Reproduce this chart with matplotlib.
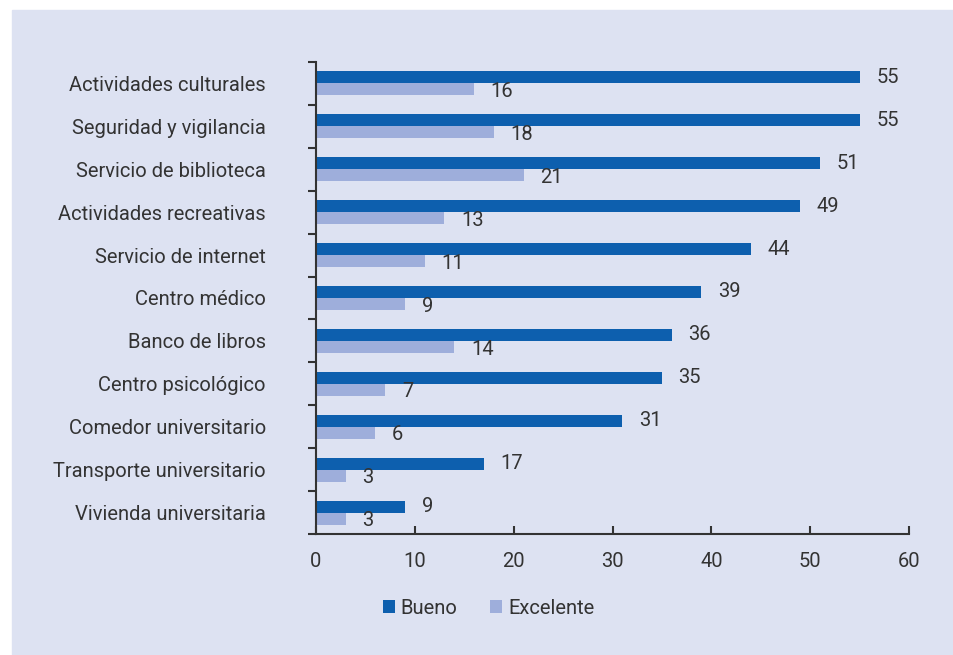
import matplotlib.pyplot as plt
import matplotlib.patches as mpatches
import numpy as np

plt.rcParams['font.family'] = ['Roboto', 'DejaVu Sans']

categories = ['Actividades culturales', 'Seguridad y vigilancia', 'Servicio de biblioteca',
              'Actividades recreativas', 'Servicio de internet', 'Centro médico',
              'Banco de libros', 'Centro psicológico', 'Comedor universitario',
              'Transporte universitario', 'Vivienda universitaria']
bueno = [55, 55, 51, 49, 44, 39, 36, 35, 31, 17, 9]
excelente = [16, 18, 21, 13, 11, 9, 14, 7, 6, 3, 3]
xticks = [0, 10, 20, 30, 40, 50, 60]

BG = '#dde2f2'
C_BUENO = '#0d5fae'
C_EXC = '#9eaedb'
TXT = '#333333'
FS = 14.5

fig = plt.figure(figsize=(9.54, 6.55), dpi=100)
fig.patch.set_facecolor('white')
# light panel behind the chart
fig.patches.append(mpatches.Rectangle((12 / 954, -0.1), 2, 1.1 - 10 / 655,
                                      transform=fig.transFigure, color=BG, zorder=-10))

ax = fig.add_axes([316 / 954, 1 - 534 / 655, (909 - 316) / 954, (534 - 62) / 655])
ax.set_facecolor('none')

y = np.arange(len(categories))
h = 0.28
ax.barh(y - h / 2, bueno, height=h, color=C_BUENO, label='Bueno')
ax.barh(y + h / 2, excelente, height=h, color=C_EXC, label='Excelente')

for i in range(len(categories)):
    ax.annotate(str(bueno[i]), (bueno[i], y[i] - h / 2), xytext=(12, 0),
                textcoords='offset points', va='center', ha='left', fontsize=FS, color=TXT)
    ax.annotate(str(excelente[i]), (excelente[i], y[i] + h / 2 + 0.05), xytext=(12, 0),
                textcoords='offset points', va='center', ha='left', fontsize=FS, color=TXT)

ax.set_xlim(0, 60)
ax.set_ylim(len(categories) - 0.5, -0.5)
ax.set_xticks(xticks)
ax.set_xticklabels([str(t) for t in xticks])
ax.tick_params(axis='x', direction='in', length=6, width=1.5, color=TXT,
               pad=13, labelsize=FS, labelcolor=TXT)

# category labels at centers, tick marks at the boundaries
ax.set_yticks(y)
ax.set_yticklabels(categories)
ax.tick_params(axis='y', which='major', length=0, pad=36, labelsize=FS, labelcolor=TXT)
ax.set_yticks(np.arange(len(categories) + 1) - 0.5, minor=True)
ax.tick_params(axis='y', which='minor', direction='out', length=6, width=1.5, color=TXT)

for s in ['top', 'right']:
    ax.spines[s].set_visible(False)
for s in ['left', 'bottom']:
    ax.spines[s].set_color(TXT)
    ax.spines[s].set_linewidth(1.5)

fig.legend(loc='center', bbox_to_anchor=(0.512, 1 - 608 / 655), ncol=2, frameon=False,
           fontsize=FS, handlelength=0.6, handleheight=0.6, handletextpad=0.3,
           columnspacing=1.6, labelcolor=TXT)

fig.savefig('out.png', dpi=100)
